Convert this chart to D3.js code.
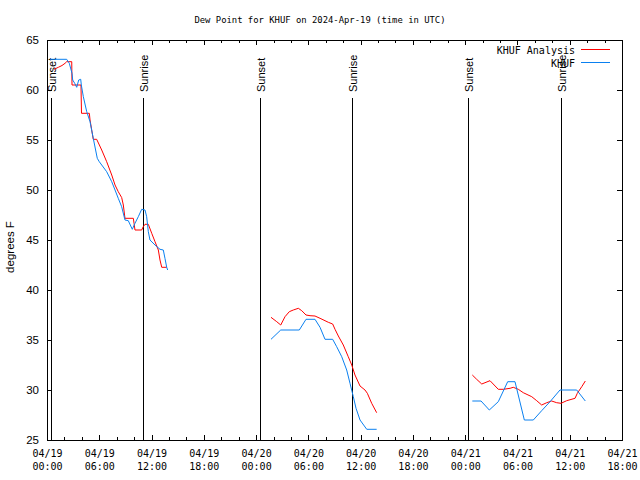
<!DOCTYPE html>
<html>
<head>
<meta charset="utf-8">
<script src="https://cdn.jsdelivr.net/npm/d3@7"></script>
<style>
  body { margin: 0; background: #fff; }
  svg { display: block; }
</style>
</head>
<body>
<svg id="chart" width="640" height="480"></svg>
<script>
// ---- data (hours since 2024-04-19 00:00 UTC) ----
const analysisHours = [
  0.80,1.30,1.72,2.07,2.26,2.84,2.87,3.90,3.96,4.86,4.94,5.13,5.31,5.70,6.28,6.85,7.43,7.81,8.18,8.57,8.76,8.95,9.91,9.99,10.10,10.87,11.05,11.25,11.63,12.02,12.40,12.78,12.97,13.17,13.74,
  null,
  25.71,26.37,26.83,27.32,27.81,28.27,28.85,29.24,29.73,30.19,30.76,31.34,31.91,32.29,32.79,33.06,33.44,34.01,34.58,34.98,35.35,35.93,36.50,36.77,37.27,37.84,
  null,
  48.82,49.32,49.90,50.85,51.80,52.38,53.15,53.52,54.10,54.67,55.64,56.21,56.78,57.36,57.93,58.50,59.00,59.65,60.61,60.87,61.38,61.79
];
const analysisValues = [
  62.07,62.27,62.45,62.67,62.83,62.83,60.5,60.5,57.67,57.67,57.0,56.0,55.07,55.07,54.0,52.83,51.5,50.5,49.83,49.25,48.5,47.17,47.17,46.67,46.0,46.0,46.33,46.57,46.57,45.67,44.83,44.0,43.0,42.27,42.27,
  null,
  37.27,36.83,36.5,37.33,37.83,38.0,38.17,37.93,37.5,37.43,37.4,37.17,36.93,36.77,36.6,36.07,35.4,34.5,33.33,32.5,31.5,30.4,30.0,29.67,28.67,27.73,
  null,
  31.5,31.07,30.6,30.93,30.07,30.07,30.17,30.27,30.07,29.73,29.33,28.93,28.5,28.73,28.9,28.73,28.67,28.93,29.17,29.67,30.33,30.9
];
const obsHours = [
  0.34,2.26,2.56,2.87,2.95,3.18,3.41,3.64,3.87,3.94,4.17,4.56,4.94,5.31,5.77,6.00,6.85,7.43,7.81,8.18,8.57,8.95,9.33,9.79,10.10,10.48,10.87,11.25,11.44,11.63,11.82,12.40,12.97,13.35,13.54,13.74,13.85,
  null,
  25.71,26.83,28.96,29.73,30.76,31.34,31.91,32.79,33.25,33.83,34.40,34.78,35.16,35.47,35.93,36.70,37.84,
  null,
  48.82,49.82,50.77,51.80,52.88,53.72,54.79,55.82,56.78,57.74,58.88,60.80,61.79
];
const obsValues = [
  63.07,63.07,62.67,61.67,61.0,60.67,60.27,61.0,61.07,60.5,59.33,57.83,56.83,55.17,53.17,52.83,51.83,50.83,50.0,49.17,48.33,47.0,46.93,46.07,46.67,47.33,48.07,48.0,47.33,45.83,45.0,44.5,44.07,44.0,43.17,42.27,42.0,
  null,
  35.07,36.0,36.0,37.07,37.07,36.27,35.07,35.07,34.33,33.33,32.0,30.67,29.33,28.17,27.0,26.07,26.07,
  null,
  28.9,28.9,28.0,28.83,30.83,30.83,27.0,27.0,27.93,28.83,30.0,30.0,28.9
];
const sunEventHours = [0.42, 11.06, 24.4, 35.0, 48.37, 59.05];
const sunEventLabels = ["Sunset","Sunrise","Sunset","Sunrise","Sunset","Sunrise"];
const xTickHours = [0,6,12,18,24,30,36,42,48,54,60,66];
const xTickDates = ["04/19","04/19","04/19","04/19","04/20","04/20","04/20","04/20","04/21","04/21","04/21","04/21"];
const xTickTimes = ["00:00","06:00","12:00","18:00","00:00","06:00","12:00","18:00","00:00","06:00","12:00","18:00"];
const yTicks = [25,30,35,40,45,50,55,60,65];
const seriesNames = ["KHUF Analysis","KHUF"];
const seriesColors = ["#ff0000","#0a80f0"];
const titleText = "Dew Point for KHUF on 2024-Apr-19 (time in UTC)";
const yLabelText = "degrees F";

// ---- layout ----
const L = 47, R = 622, T = 40, B = 440;
const svg = d3.select("#chart");
const x = d3.scaleLinear().domain([0, 66]).range([L, R]);
const y = d3.scaleLinear().domain([25, 65]).range([B, T]);
const mono = "'DejaVu Sans Mono', monospace";
const sans = "'Liberation Sans', Arial, sans-serif";

// title
svg.append("text").attr("x", 320).attr("y", 23).attr("text-anchor", "middle")
  .style("font-family", mono).style("font-size", "8.9px").text(titleText);

// y label
svg.append("text").attr("transform", "translate(14,247) rotate(-90)")
  .attr("text-anchor", "middle").style("font-family", sans).style("font-size", "11.5px").text(yLabelText);

// axes
function styleAxis(g) {
  g.select(".domain").remove();
  g.selectAll(".tick line").attr("stroke", "#000").attr("shape-rendering", "crispEdges");
}
const minorHours = d3.range(0, 67, 2).filter(h => h % 6 !== 0);

const gLeft = svg.append("g").attr("transform", `translate(${L},0)`)
  .call(d3.axisLeft(y).tickValues(yTicks).tickSize(-5).tickPadding(8).tickFormat(d3.format("d")));
styleAxis(gLeft);
gLeft.selectAll("text").style("font-family", sans).style("font-size", "11.5px").attr("fill", "#000");

const gRight = svg.append("g").attr("transform", `translate(${R},0)`)
  .call(d3.axisRight(y).tickValues(yTicks).tickSize(-5).tickFormat(""));
styleAxis(gRight);

const gBottom = svg.append("g").attr("transform", `translate(0,${B})`)
  .call(d3.axisBottom(x).tickValues(xTickHours).tickSize(-5).tickFormat(""));
styleAxis(gBottom);
gBottom.selectAll(".tick").each(function(d, i) {
  const t = d3.select(this);
  t.append("text").attr("y", 17).attr("text-anchor", "middle").attr("fill", "#000")
    .style("font-family", mono).style("font-size", "10px").text(xTickDates[i]);
  t.append("text").attr("y", 30).attr("text-anchor", "middle").attr("fill", "#000")
    .style("font-family", mono).style("font-size", "10px").text(xTickTimes[i]);
});
const gBottomMinor = svg.append("g").attr("transform", `translate(0,${B})`)
  .call(d3.axisBottom(x).tickValues(minorHours).tickSize(-3).tickFormat(""));
styleAxis(gBottomMinor);

const gTop = svg.append("g").attr("transform", `translate(0,${T})`)
  .call(d3.axisTop(x).tickValues(xTickHours).tickSize(-5).tickFormat(""));
styleAxis(gTop);
const gTopMinor = svg.append("g").attr("transform", `translate(0,${T})`)
  .call(d3.axisTop(x).tickValues(minorHours).tickSize(-3).tickFormat(""));
styleAxis(gTopMinor);

// sunrise / sunset markers
sunEventHours.forEach((h, i) => {
  const px = Math.round(x(h)) + 0.5;
  svg.append("line").attr("x1", px).attr("x2", px).attr("y1", 98).attr("y2", B)
    .attr("stroke", "#000").attr("stroke-width", 1).attr("shape-rendering", "crispEdges");
  svg.append("text").attr("transform", `translate(${px + 4},92) rotate(-90)`)
    .attr("text-anchor", "start").style("font-family", sans).style("font-size", "11px")
    .text(sunEventLabels[i]);
});

// data lines
function toPoints(hs, vs) { return hs.map((h, i) => ({h, v: vs[i]})); }
const line = d3.line().defined(d => d.h != null && d.v != null).x(d => x(d.h)).y(d => y(d.v));
svg.append("path").datum(toPoints(analysisHours, analysisValues))
  .attr("d", line).attr("fill", "none").attr("stroke", seriesColors[0]).attr("stroke-width", 1);
svg.append("path").datum(toPoints(obsHours, obsValues))
  .attr("d", line).attr("fill", "none").attr("stroke", seriesColors[1]).attr("stroke-width", 1);

// border
svg.append("rect").attr("x", L + 0.5).attr("y", T + 0.5).attr("width", R - L).attr("height", B - T)
  .attr("fill", "none").attr("stroke", "#000").attr("shape-rendering", "crispEdges");

// legend
seriesNames.forEach((name, i) => {
  const ly = 50 + i * 13;
  svg.append("text").attr("x", 575).attr("y", ly + 3.5).attr("text-anchor", "end")
    .style("font-family", mono).style("font-size", "10px").text(name);
  svg.append("line").attr("x1", 581).attr("x2", 610).attr("y1", ly - 0.5).attr("y2", ly - 0.5)
    .attr("stroke", seriesColors[i]).attr("stroke-width", 1).attr("shape-rendering", "crispEdges");
});
</script>
</body>
</html>
